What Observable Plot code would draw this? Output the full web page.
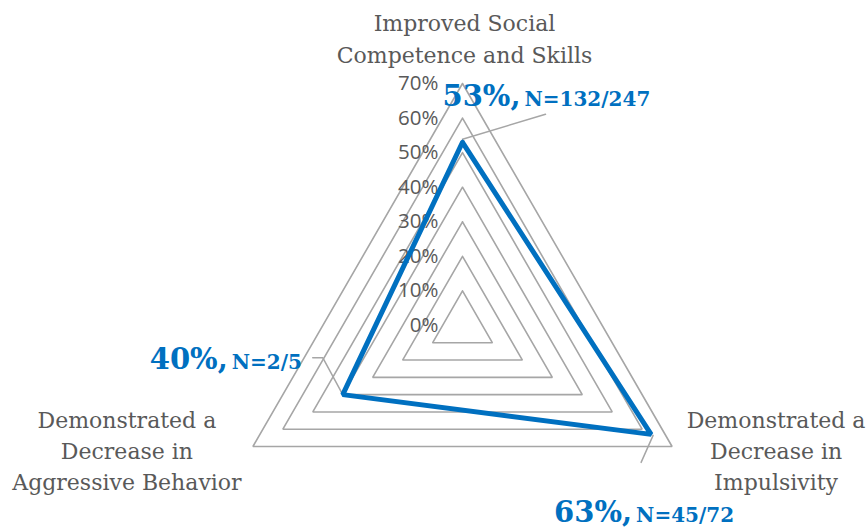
<!DOCTYPE html>
<html><head><meta charset="utf-8">
<script src="https://cdn.jsdelivr.net/npm/d3@7"></script>
<script src="https://cdn.jsdelivr.net/npm/@observablehq/plot@0.6"></script>
<style>body{margin:0;background:#fff;}</style>
</head><body><div id="chart"></div>
<script>
// ---- data ----
const categories = ["Improved Social\nCompetence and Skills", "Demonstrated a\nDecrease in\nImpulsivity", "Demonstrated a\nDecrease in\nAggressive Behavior"];
const values = [0.53, 0.63, 0.40];
const percentLabels = ["53%,", "63%,", "40%,"];
const countLabels = ["N=132/247", "N=45/72", "N=2/5"];
const gridLevels = [0.1, 0.2, 0.3, 0.4, 0.5, 0.6, 0.7];
const tickValues = [0, 0.1, 0.2, 0.3, 0.4, 0.5, 0.6, 0.7];
const tickLabels = ["0%", "10%", "20%", "30%", "40%", "50%", "60%", "70%"];

// ---- layout ----
const W = 867, H = 529;
const cx = 462, cy = 325, k = 345.7; // pixel centre and pixels per 100%
const maxLevel = 0.7;
const ang = i => i * 2 * Math.PI / 3;
const px = (i, r) => r * Math.sin(ang(i));
const py = (i, r) => r * Math.cos(ang(i));
const BLUE = "#0070C0", GRID = "#A6A6A6", TEXT = "#595959";
const serif = "DejaVu Serif";

// category label offsets (pixels from outer vertex; to centre x / last baseline)
const catOffsets = [[2, -21], [104, 44], [-126, 44]];
// value label anchor (junction x, baseline) offsets from data point
const valOffsets = [[58, -36], [-19, 88], [-115, -26]];
// leader line pixel offsets from data point
const leaderOffsets = [
  [[0, -3], [83, -28]],
  [[2, 1], [-10, 28]],
  [[0, 0], [-20, -37], [-30, -37]]
];

const grid = gridLevels.flatMap(r => [0, 1, 2, 0].map(i => ({r, x: px(i, r), y: py(i, r)})));
const series = [0, 1, 2, 0].map(i => ({x: px(i, values[i]), y: py(i, values[i])}));
const cats = categories.map((c, i) => ({
  text: c,
  x: px(i, maxLevel) + catOffsets[i][0] / k,
  y: py(i, maxLevel) - catOffsets[i][1] / k
}));
const vals = values.map((v, i) => ({
  big: percentLabels[i], small: countLabels[i],
  x: px(i, v) + valOffsets[i][0] / k, y: py(i, v) - valOffsets[i][1] / k
}));
const leaders = values.flatMap((v, i) => leaderOffsets[i].map(o => ({id: i, x: px(i, v) + o[0] / k, y: py(i, v) - o[1] / k})));
const ticks = tickValues.map((t, j) => ({x: 0, y: t, label: tickLabels[j]}));

const chart = Plot.plot({
  width: W, height: H, margin: 0,
  style: {background: "white"},
  x: {domain: [-cx / k, (W - cx) / k], axis: null},
  y: {domain: [-(H - cy) / k, cy / k], axis: null},
  marks: [
    Plot.line(grid, {x: "x", y: "y", z: "r", stroke: GRID, strokeWidth: 1.6, strokeLinejoin: "miter"}),
    Plot.line(leaders, {x: "x", y: "y", z: "id", stroke: GRID, strokeWidth: 1.5}),
    Plot.text(ticks, {x: "x", y: "y", text: "label", textAnchor: "end", dx: -24, fill: TEXT, fontSize: 20.5, fontFamily: "Open Sans"}),
    Plot.line(series, {x: "x", y: "y", stroke: BLUE, strokeWidth: 5, strokeLinejoin: "miter"}),
    Plot.text(cats, {x: "x", y: "y", text: "text", lineAnchor: "bottom", lineHeight: 1.42, fill: TEXT, fontSize: 22, fontFamily: serif}),
    Plot.text(vals, {x: "x", y: "y", text: "big", textAnchor: "end", lineAnchor: "bottom", fill: BLUE, fontSize: 29, fontWeight: "bold", fontFamily: serif}),
    Plot.text(vals, {x: "x", y: "y", text: "small", textAnchor: "start", dx: 4, lineAnchor: "bottom", fill: BLUE, fontSize: 20, fontWeight: "bold", fontFamily: serif})
  ]
});
document.getElementById("chart").appendChild(chart);
</script>
</body></html>
